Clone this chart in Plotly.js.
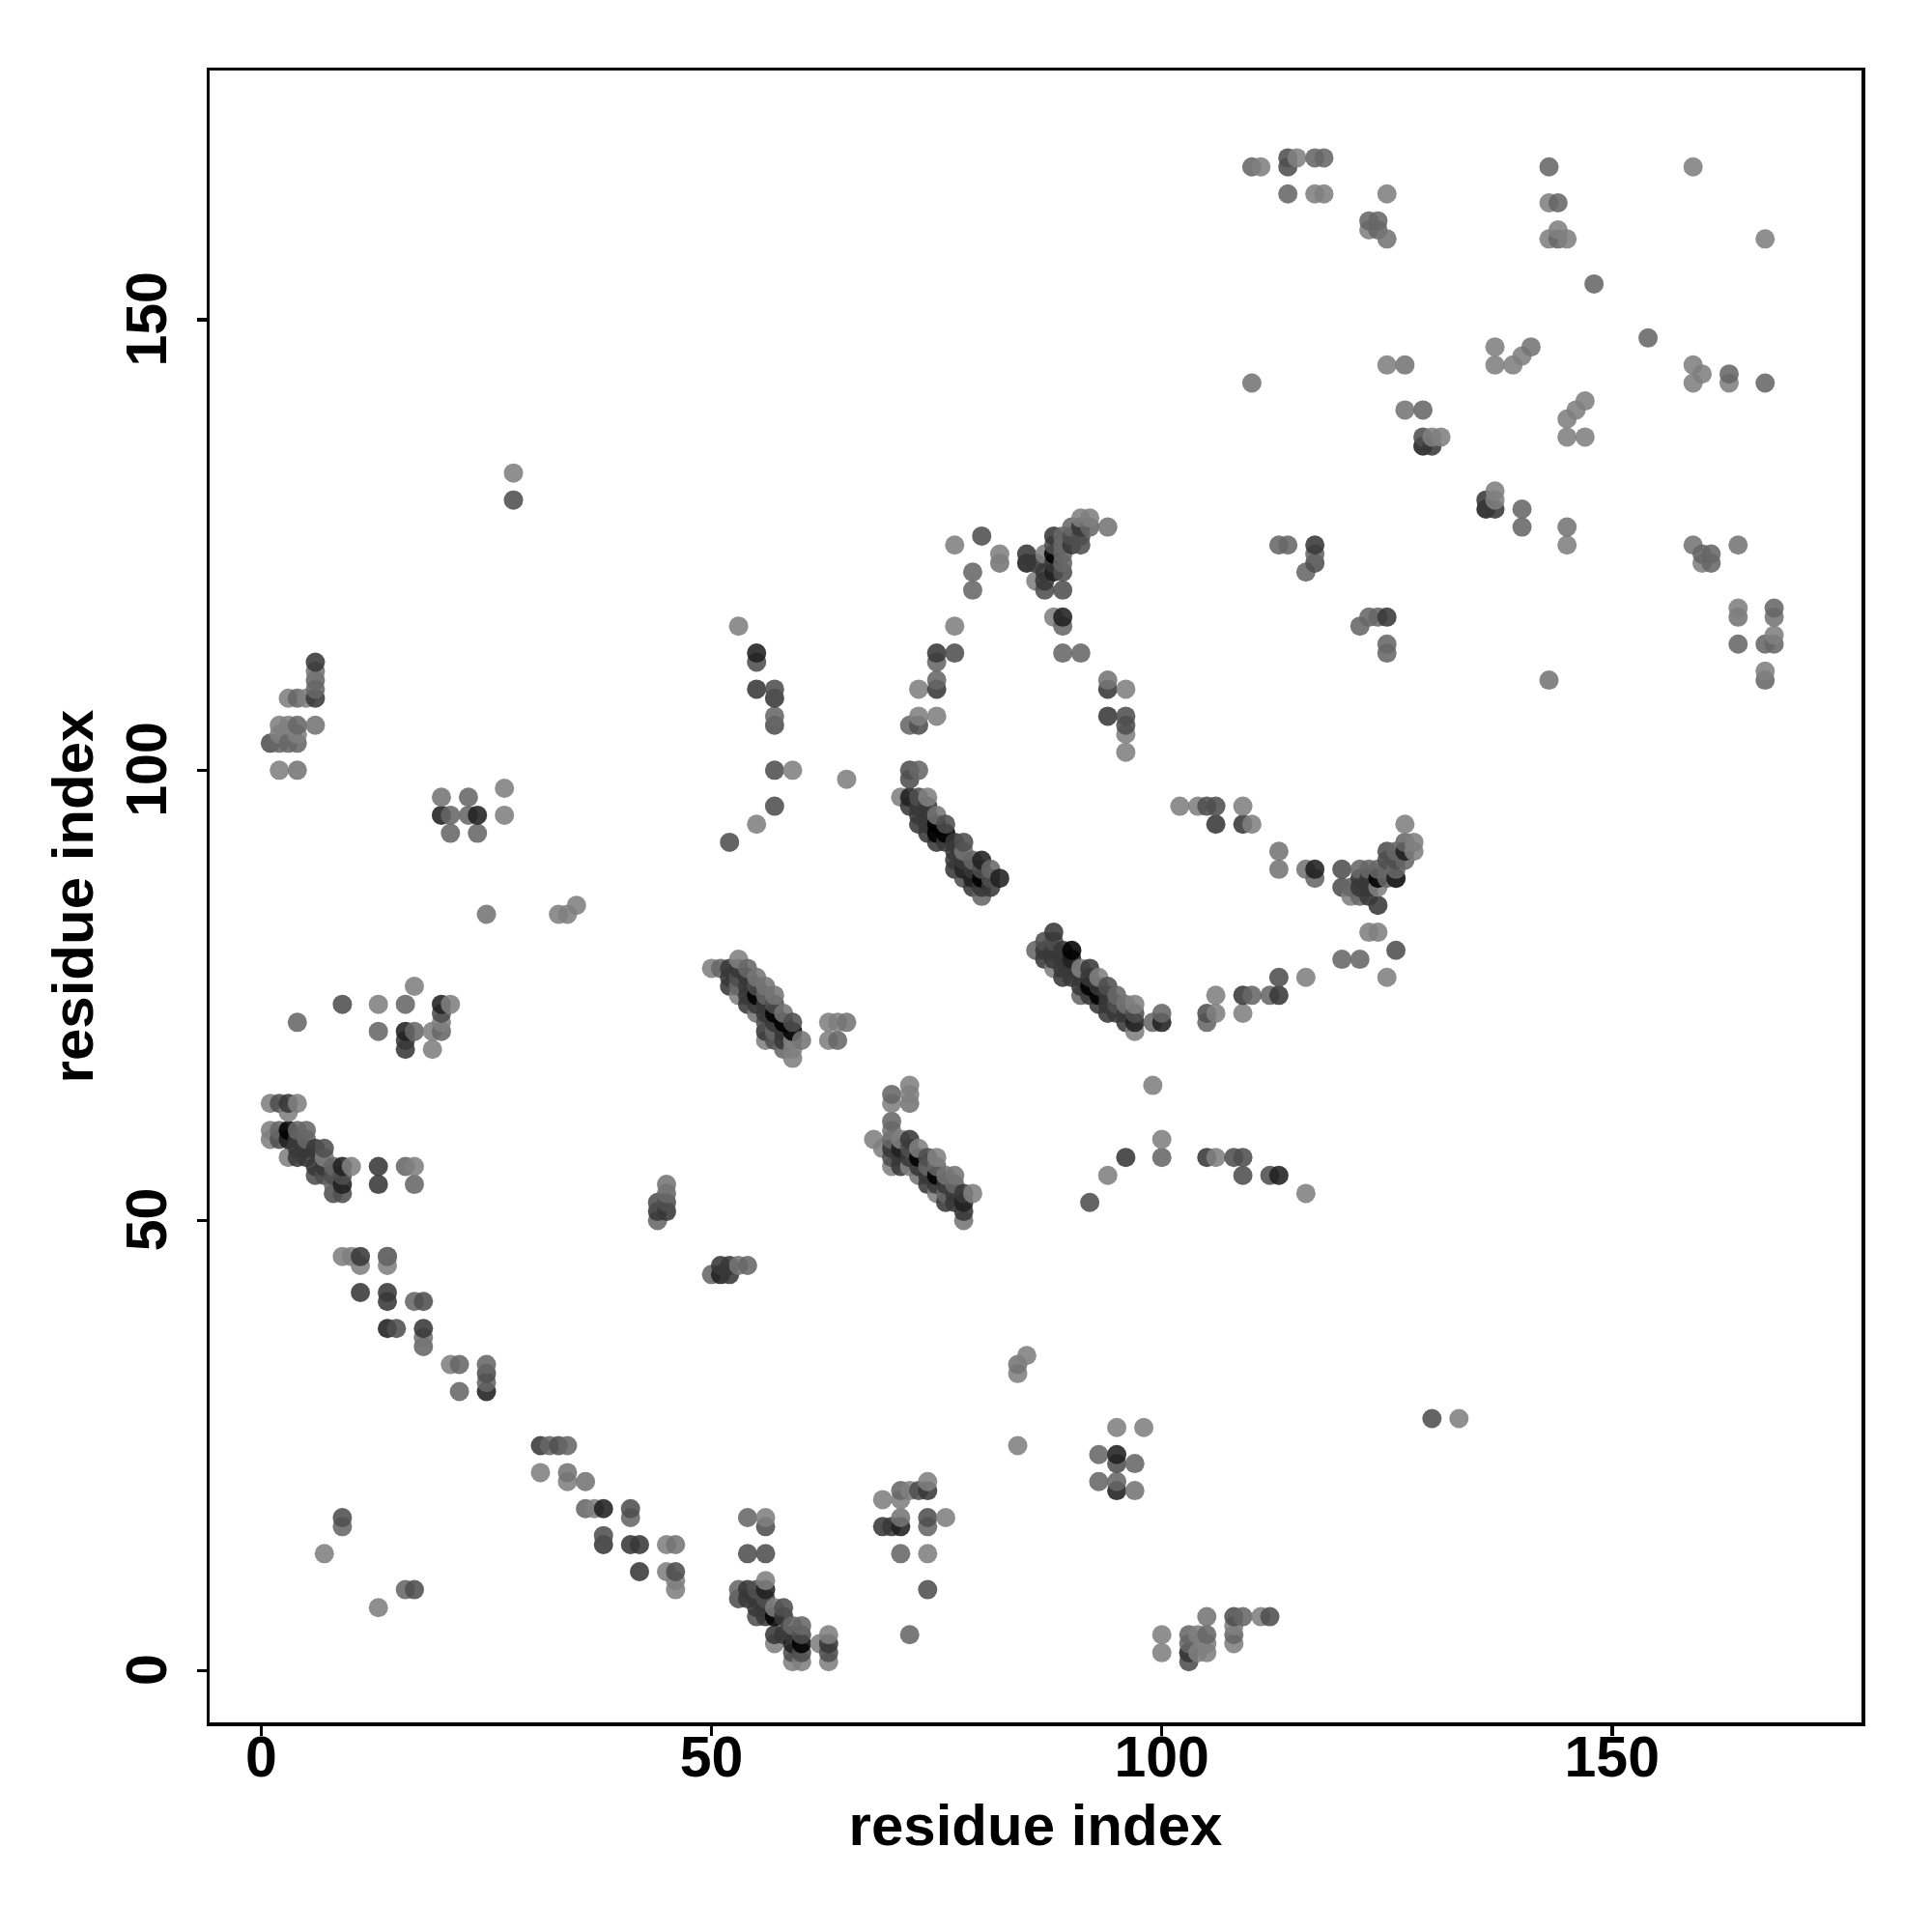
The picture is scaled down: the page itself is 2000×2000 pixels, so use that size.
<!DOCTYPE html>
<html>
<head>
<meta charset="utf-8">
<script src="https://cdn.plot.ly/plotly-3.0.1.min.js"></script>
<style>html,body{margin:0;padding:0;background:#fff}</style>
</head>
<body>
<div id="chart" style="width:2000px;height:2000px"></div>
<script>
// contact pairs [residue x, residue y], grouped by the grey level they were read at
const lightContacts = [[9,46],[10,46],[11,45],[14,45],[21,34],[34,21],[31,22],[37,18],[45,14],[45,11],[46,10],[46,9],[7,13],[13,7],[56,10],[57,7],[57,3],[59,1],[60,1],[62,3],[63,4],[63,1],[56,17],[76,17],[74,13],[74,21],[72,20],[69,19],[71,19],[84,25],[84,33],[85,35],[95,27],[98,27],[100,4],[100,2],[104,4],[104,2],[105,3],[105,2],[108,5],[108,3],[111,6],[3,108],[5,108],[2,105],[3,105],[2,104],[4,104],[2,100],[27,98],[27,95],[33,84],[34,84],[35,85],[17,76],[13,74],[21,74],[20,72],[19,71],[19,69],[10,56],[17,56],[1,63],[4,63],[3,62],[1,60],[1,59],[3,57],[7,57],[50,78],[53,79],[53,75],[56,70],[59,70],[59,69],[59,68],[63,72],[64,72],[63,70],[68,59],[69,58],[70,63],[72,65],[72,64],[70,56],[71,59],[72,56],[73,58],[75,57],[75,53],[79,53],[99,65],[100,59],[94,55],[106,57],[116,53],[71,97],[74,97],[93,77],[97,74],[97,71],[88,78],[91,78],[102,96],[104,96],[109,96],[110,94],[106,75],[106,73],[109,73],[116,77],[125,77],[123,82],[124,82],[121,86],[124,87],[127,94],[128,92],[128,91],[77,125],[82,124],[86,121],[87,124],[91,128],[92,128],[88,117],[77,116],[73,109],[73,106],[75,106],[96,109],[96,104],[96,102],[111,167],[115,168],[117,164],[118,164],[125,164],[123,160],[143,163],[144,160],[143,159],[145,159],[159,167],[167,159],[125,145],[137,147],[137,145],[139,145],[140,146],[159,145],[159,143],[160,144],[163,143],[147,141],[146,140],[145,139],[145,137],[147,137],[130,137],[131,137],[137,131],[137,130],[145,125],[160,123],[164,118],[168,115],[167,111],[28,133],[133,28],[53,116],[59,100],[55,94],[65,99]];
const midLightContacts = [[18,37],[34,22],[36,21],[46,14],[14,46],[71,17],[97,20],[84,34],[105,6],[20,97],[4,100],[6,105],[25,84],[53,45],[55,77],[56,76],[57,75],[58,73],[60,70],[65,72],[72,63],[70,60],[73,55],[76,55],[77,55],[78,50],[75,95],[78,91],[96,74],[113,91],[113,89],[116,89],[82,123],[94,127],[94,110],[125,159],[127,145],[110,143],[141,147],[127,140],[145,127],[164,125],[164,117],[168,117],[143,110],[159,125],[6,111],[45,54],[55,73]];
const midContacts = [[14,46],[17,41],[18,36],[22,34],[25,34],[25,32],[22,31],[32,25],[34,25],[41,17],[36,18],[9,16],[16,9],[53,9],[59,5],[60,5],[54,17],[74,16],[71,20],[71,13],[72,4],[93,24],[97,23],[93,21],[95,21],[105,4],[109,6],[108,4],[103,4],[103,3],[6,109],[4,108],[4,105],[2,103],[3,103],[4,103],[4,72],[23,97],[21,95],[23,95],[21,93],[24,93],[16,74],[13,71],[17,71],[20,71],[2,60],[4,60],[5,60],[5,59],[8,56],[8,54],[17,54],[16,56],[44,50],[45,53],[54,45],[50,44],[51,78],[64,70],[70,64],[70,61],[70,59],[75,56],[74,56],[76,53],[77,54],[73,100],[78,89],[79,90],[80,86],[81,89],[86,80],[91,75],[95,75],[99,72],[100,73],[100,57],[105,72],[110,75],[112,75],[120,79],[122,79],[117,88],[121,87],[122,89],[122,86],[123,89],[124,89],[125,88],[127,92],[127,90],[79,122],[79,120],[89,126],[89,123],[90,127],[92,127],[89,116],[89,113],[91,113],[75,112],[75,110],[72,105],[110,167],[114,164],[117,168],[118,168],[123,161],[124,161],[124,160],[144,163],[144,159],[143,167],[148,154],[154,148],[163,144],[167,143],[129,140],[140,129],[140,127],[113,125],[114,125],[117,124],[116,122],[122,116],[123,117],[124,117],[125,114],[125,113],[160,124],[161,124],[161,123],[168,118],[164,114],[167,114],[168,114],[167,110],[57,106],[6,110],[53,76],[54,78],[56,75],[57,71],[58,69],[125,89],[126,91],[126,89],[89,124],[89,125]];
const darkMidContacts = [[18,41],[15,38],[25,33],[33,25],[41,18],[38,15],[46,11],[9,17],[17,9],[58,7],[60,2],[59,2],[53,8],[55,9],[56,8],[55,6],[60,4],[63,2],[54,13],[56,13],[56,16],[74,17],[73,20],[74,9],[103,2],[103,1],[95,23],[108,6],[112,6],[1,103],[9,74],[20,73],[2,59],[7,58],[6,55],[7,55],[9,53],[8,53],[9,55],[44,52],[45,52],[72,99],[73,97],[76,94],[78,92],[87,81],[88,81],[94,76],[74,57],[92,52],[105,96],[106,96],[108,57],[109,57],[109,55],[112,55],[113,77],[126,80],[120,89],[120,87],[80,126],[88,125],[89,122],[89,120],[87,120],[90,126],[91,125],[77,113],[73,105],[96,106],[96,105],[114,168],[114,167],[129,137],[117,123],[57,109],[57,105],[57,100],[57,96],[52,92],[28,130],[130,28],[55,112],[105,73],[97,73],[72,100],[125,91],[53,77],[55,76],[56,72],[57,74],[57,70],[59,72],[70,57],[72,58],[78,88],[80,89],[81,88],[95,74],[125,90],[126,90],[91,126],[2,63],[8,55]];
const darkContacts = [[11,46],[11,42],[14,42],[14,41],[18,38],[31,25],[38,14],[41,14],[42,14],[42,11],[54,9],[54,8],[55,8],[56,6],[58,6],[57,4],[58,4],[59,4],[63,3],[69,16],[70,16],[74,20],[103,2],[105,57],[106,94],[6,112],[6,108],[5,58],[4,58],[4,59],[6,56],[7,56],[6,58],[5,57],[4,57],[16,70],[16,69],[13,56],[13,54],[44,51],[45,51],[51,45],[52,45],[52,44],[72,96],[73,96],[73,95],[74,95],[73,94],[74,93],[76,92],[75,92],[77,90],[77,89],[79,87],[81,87],[88,82],[87,79],[88,79],[92,78],[90,77],[93,74],[94,73],[96,73],[75,113],[75,109],[94,109],[94,106],[85,124],[86,123],[87,122],[87,121],[88,126],[91,127],[90,125],[122,88],[122,87],[123,88],[123,87],[123,86],[124,85],[126,88],[109,94],[113,75],[96,57],[117,125],[125,117],[137,129],[130,136],[136,130],[55,109],[57,108],[52,76],[52,78],[53,78],[54,74],[56,71],[71,56],[72,59],[70,58],[73,56],[74,55],[74,54],[76,54],[76,52],[77,53],[78,53],[78,51],[92,77],[109,75],[52,77],[54,77],[54,76],[54,75],[55,74],[56,74],[56,73],[57,72],[58,71],[58,70],[71,57],[72,57],[75,54],[77,52],[74,94],[74,96],[77,92],[77,91],[78,90],[79,89],[80,87],[87,80],[88,80],[89,80],[89,79],[89,78],[90,78],[89,77],[91,77],[91,76],[93,76],[92,75],[94,75],[94,74],[95,73],[96,72],[88,123],[3,63],[55,7],[56,7]];
const veryDarkContacts = [[14,38],[25,31],[38,18],[56,9],[59,3],[95,24],[95,20],[71,16],[20,95],[24,95],[3,59],[9,56],[9,54],[20,74],[16,71],[51,44],[71,58],[78,52],[72,97],[82,88],[79,88],[78,89],[85,123],[88,122],[127,91],[126,88],[113,55],[117,89],[129,136],[136,129],[55,113],[97,72],[100,72],[80,90],[90,79],[89,117]];
const blackContacts = [[60,3],[57,6],[3,60],[55,75],[57,73],[59,71],[73,57],[75,55],[75,94],[75,93],[76,93],[80,88],[90,80],[92,76],[93,75],[88,124],[124,88],[58,72]];

const greyLevels = [128, 116, 102, 78, 56, 32, 0];
const contactGroups = [lightContacts, midLightContacts, midContacts, darkMidContacts, darkContacts, veryDarkContacts, blackContacts];
const markerAlpha = 0.88;
const axisTicks = [0, 50, 100, 150];
const axisRange = [-5.74, 177.7];
const axisTitle = 'residue index';

const points = [];
contactGroups.forEach((g, k) => g.forEach(p => points.push({x: p[0], y: p[1], k})));
points.sort((a, b) => a.x - b.x || a.y - b.y || a.k - b.k);

const axisCommon = {
  range: axisRange, tickmode: 'array', tickvals: axisTicks, ticktext: axisTicks.map(String),
  ticks: 'outside', ticklen: 10, tickwidth: 3.5, tickcolor: '#000',
  showline: true, mirror: true, linewidth: 3.5, linecolor: '#000',
  showgrid: false, zeroline: false, automargin: false,
  tickfont: {family: 'Liberation Sans, Arial, sans-serif', size: 59, color: '#000', weight: 'bold'}
};
const titleFont = {family: 'Liberation Sans, Arial, sans-serif', size: 60, color: '#000', weight: 'bold'};

Plotly.newPlot('chart', [{
  type: 'scatter', mode: 'markers',
  x: points.map(p => p.x), y: points.map(p => p.y),
  marker: {
    size: 20, line: {width: 0},
    color: points.map(p => `rgba(${greyLevels[p.k]},${greyLevels[p.k]},${greyLevels[p.k]},${markerAlpha})`)
  },
  hoverinfo: 'x+y', cliponaxis: true
}], {
  width: 2000, height: 2000, showlegend: false,
  paper_bgcolor: '#fff', plot_bgcolor: '#fff',
  margin: {l: 217, r: 73, t: 73, b: 217, pad: 0},
  xaxis: Object.assign({}, axisCommon, {title: {text: axisTitle, font: titleFont, standoff: 17}, ticklabelstandoff: -28}),
  yaxis: Object.assign({}, axisCommon, {title: {text: axisTitle, font: titleFont, standoff: 4}, tickangle: -90, ticklabelstandoff: 8, ticklabelshift: 8})
}, {displayModeBar: false, staticPlot: true});
</script>
</body>
</html>
